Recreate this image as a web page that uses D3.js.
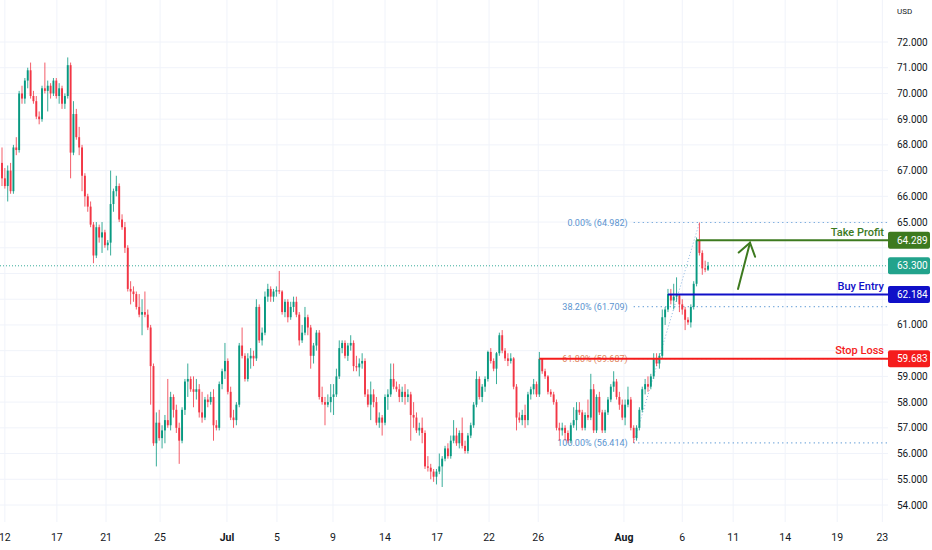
<!DOCTYPE html>
<html>
<head>
<meta charset="utf-8">
<script src="https://cdn.jsdelivr.net/npm/d3@7"></script>
<style>
body{margin:0;background:#fff;}
svg{display:block;font-family:Roboto,"Liberation Sans",sans-serif;}
</style>
</head>
<body>
<svg id="chart" width="932" height="550"></svg>
<script>
// 4h candles
const opens=[67.3,66.7,66.4,67.0,66.2,67.9,67.8,70.0,69.8,70.5,
70.9,69.9,69.7,69.1,69.0,70.2,70.1,70.3,70.0,70.5,
69.9,70.2,69.6,69.9,71.1,67.7,69.2,68.3,67.9,66.8,
66.0,65.6,64.9,63.7,64.8,64.4,64.6,64.1,64.2,65.7,
66.2,66.4,65.1,64.8,64.0,62.4,62.3,62.2,61.7,61.4,
61.5,61.4,60.9,59.4,56.4,57.2,56.6,56.9,57.3,57.1,
58.2,57.7,57.0,56.5,57.7,58.8,58.9,58.5,58.4,58.5,
57.6,57.4,58.1,58.0,58.2,57.1,57.0,58.7,59.2,59.6,
58.4,57.4,57.3,57.9,60.2,59.8,58.9,59.7,59.8,59.7,
61.7,60.4,60.7,62.1,62.4,62.1,62.3,62.35,62.3,61.5,
61.9,61.3,61.7,61.9,61.4,60.4,60.7,61.3,60.9,59.8,
60.2,60.7,58.2,58.0,57.9,58.0,58.2,58.3,59.0,60.1,
60.3,59.8,60.2,60.3,59.4,59.35,59.5,59.6,58.3,57.9,
58.3,58.0,57.2,57.4,57.2,58.2,58.3,58.9,58.6,58.5,
58.2,58.4,58.2,58.3,57.5,57.4,56.9,57.0,56.8,55.5,
55.45,55.3,55.1,55.3,55.5,55.8,56.2,55.9,56.5,56.7,
56.4,56.8,56.3,56.1,56.7,57.1,57.9,58.9,58.2,58.6,
58.9,59.95,59.6,59.3,59.9,60.6,60.0,59.7,59.6,59.7,
58.6,57.4,57.3,57.5,57.3,58.3,58.5,58.7,58.3,59.68,
59.2,59.0,58.4,58.3,58.0,57.0,56.9,57.0,56.8,56.5,
57.1,57.3,57.7,57.6,57.0,57.5,57.4,58.5,56.9,58.2,
57.6,56.9,57.6,58.1,58.6,58.8,58.2,57.9,57.4,57.9,
58.1,57.0,56.6,57.0,57.7,58.5,58.7,58.6,59.0,59.7,
59.5,59.8,61.3,61.6,62.2,61.95,62.1,62.15,61.8,61.6,
61.2,61.1,61.7,62.6,64.29,63.8,63.2,63.15];
const highs=[67.9,67.1,67.2,67.3,68.0,68.3,70.1,70.3,70.6,71.0,
71.2,70.1,69.9,69.3,70.3,71.2,70.5,70.4,70.6,70.6,
70.4,70.3,70.0,71.4,71.2,69.7,69.4,68.7,68.0,66.9,
66.1,65.8,65.0,65.0,64.9,65.0,64.7,64.3,67.0,66.3,
66.8,66.5,65.3,65.0,64.1,62.7,62.5,62.3,62.2,62.0,
62.3,61.6,61.0,59.5,57.6,57.7,57.1,57.5,58.9,58.4,
58.3,57.9,57.2,57.8,58.9,59.5,59.0,59.0,58.9,58.7,
58.4,58.2,58.3,58.4,58.5,57.3,58.8,59.3,60.3,59.7,
58.6,57.7,58.0,60.3,60.9,59.9,59.9,60.1,60.0,62.0,
61.8,60.9,62.3,62.6,62.5,62.4,62.5,63.1,62.35,62.0,
62.0,61.9,62.1,62.1,61.5,61.0,61.7,61.4,61.0,60.3,
60.8,60.8,58.6,58.2,58.3,58.7,58.7,59.3,60.4,60.4,
60.4,60.3,60.6,60.4,59.8,59.7,59.9,59.7,58.5,58.8,
58.5,58.2,57.6,57.5,58.3,58.5,59.5,59.5,58.8,58.7,
58.6,58.7,58.5,58.4,58.0,57.6,57.2,57.4,56.9,55.9,
55.6,55.4,55.4,56.0,55.9,56.3,56.4,56.7,57.3,57.0,
56.9,57.4,56.5,56.8,57.2,58.0,59.2,59.0,58.7,59.0,
60.0,60.1,59.7,59.95,60.7,60.8,60.1,59.9,59.9,59.75,
58.7,57.6,57.7,57.9,58.4,58.6,58.9,58.8,59.95,59.7,
59.3,59.05,58.5,58.4,58.1,57.2,57.2,57.1,56.9,57.2,
57.8,58.0,58.0,57.7,57.6,58.1,59.1,58.7,58.3,58.4,
57.7,57.7,58.2,58.7,59.2,58.9,58.4,58.1,58.1,58.6,
58.2,57.1,57.1,57.8,58.6,58.9,59.0,59.1,59.9,59.9,
59.9,61.6,61.7,62.4,62.4,62.6,62.85,62.2,62.0,61.7,
61.3,61.8,62.7,64.4,64.982,63.9,63.5,63.45];
const lows=[66.4,66.3,65.8,66.1,66.1,67.6,67.7,69.6,69.6,70.2,
69.8,69.6,69.0,68.8,68.9,70.0,69.3,69.8,69.9,69.8,
69.6,69.4,69.4,69.8,66.7,67.6,68.2,67.6,66.2,65.6,
65.4,64.8,63.4,63.6,64.2,63.8,64.0,63.9,63.7,65.4,
66.0,65.0,64.7,63.8,62.3,61.8,61.9,61.6,61.3,60.6,
61.3,60.8,57.9,56.3,55.5,56.5,56.2,56.4,57.0,56.9,
57.4,56.8,55.6,56.4,57.5,58.2,58.4,57.8,58.1,57.4,
57.2,57.3,57.8,57.9,56.5,56.9,56.9,58.5,58.9,58.3,
57.3,57.0,57.1,57.8,59.7,58.8,58.8,59.3,59.4,59.6,
60.3,60.2,60.6,61.9,61.9,61.9,62.1,62.2,61.4,61.3,
61.1,61.2,61.5,61.3,60.2,60.3,60.6,60.6,59.3,59.5,
60.0,58.1,57.9,57.1,57.8,57.6,57.5,58.2,58.9,59.9,
59.7,59.6,60.0,59.2,59.2,59.0,59.3,58.2,57.8,57.3,
57.8,57.1,57.0,56.7,57.1,57.7,58.2,58.5,58.4,58.0,
58.0,57.9,58.0,56.5,57.0,56.8,56.7,56.4,55.4,55.3,
55.0,54.9,54.8,55.2,54.7,55.7,55.8,55.8,56.4,56.3,
56.2,56.2,56.0,56.0,56.6,57.0,57.8,58.1,58.0,58.4,
58.8,59.5,59.2,58.7,59.8,59.9,59.6,59.4,59.5,58.5,
56.9,57.2,57.1,57.0,57.1,58.1,58.3,58.2,58.2,59.1,
58.9,58.3,58.2,57.9,56.9,56.5,56.7,56.5,56.4,56.4,
57.0,56.9,57.5,56.9,56.9,57.3,57.3,56.8,56.8,57.5,
56.8,56.8,57.5,58.0,58.4,58.1,57.7,57.3,57.1,57.8,
56.9,56.414,56.5,56.9,57.6,58.3,58.4,58.5,58.9,59.4,
59.3,59.7,61.0,61.5,61.8,61.6,61.9,61.5,61.4,60.8,
61.0,60.9,61.6,62.5,63.7,62.95,63.05,63.1];
const closes=[66.7,66.4,67.0,66.2,67.9,67.8,70.0,69.8,70.5,70.9,
69.9,69.7,69.1,69.0,70.2,70.1,70.3,70.0,70.5,69.9,
70.2,69.6,69.9,71.1,67.7,69.2,68.3,67.9,66.8,66.0,
65.6,64.9,63.7,64.8,64.4,64.6,64.1,64.2,65.7,66.2,
66.4,65.1,64.8,64.0,62.4,62.3,62.2,61.7,61.4,61.5,
61.4,60.9,59.4,56.4,57.2,56.6,56.9,57.3,57.1,58.2,
57.7,57.0,56.5,57.7,58.8,58.9,58.5,58.4,58.5,57.6,
57.4,58.1,58.0,58.2,57.1,57.0,58.7,59.2,59.6,58.4,
57.4,57.3,57.9,60.2,59.8,58.9,59.7,59.8,59.7,61.7,
60.4,60.7,62.1,62.4,62.1,62.3,62.35,62.3,61.5,61.9,
61.3,61.7,61.9,61.4,60.4,60.7,61.3,60.9,59.8,60.2,
60.7,58.2,58.0,57.9,58.0,58.2,58.3,59.0,60.1,60.3,
59.8,60.2,60.3,59.4,59.35,59.5,59.6,58.3,57.9,58.3,
58.0,57.2,57.4,57.2,58.2,58.3,58.9,58.6,58.5,58.2,
58.4,58.2,58.3,57.5,57.4,56.9,57.0,56.8,55.5,55.45,
55.3,55.1,55.3,55.5,55.8,56.2,55.9,56.5,56.7,56.4,
56.8,56.3,56.1,56.7,57.1,57.9,58.9,58.2,58.6,58.9,
59.95,59.6,59.3,59.9,60.6,60.0,59.7,59.6,59.7,58.6,
57.4,57.3,57.5,57.3,58.3,58.5,58.7,58.3,59.68,59.2,
59.0,58.4,58.3,58.0,57.0,56.9,57.0,56.8,56.5,57.1,
57.3,57.7,57.6,57.0,57.5,57.4,58.5,56.9,58.2,57.6,
56.9,57.6,58.1,58.6,58.8,58.2,57.9,57.4,57.9,58.1,
57.0,56.6,57.0,57.7,58.5,58.7,58.6,59.0,59.7,59.5,
59.8,61.3,61.6,62.2,61.95,62.1,62.15,61.8,61.6,61.2,
61.1,61.7,62.6,64.29,63.8,63.2,63.15,63.3];

// time axis, positions given in bar units (future dates past the last bar)
const tickLabels=["12","17","21","25","Jul","5","9","14","17","22","26","Aug","6","11","14","19","23"];
const tickBars=[1,19.2,36.4,55.3,78.7,96.2,115.8,134,152.2,170.4,187.6,217.6,238,255.8,274,292.2,308];

// trade levels
const levelNames=["Take Profit","Buy Entry","Stop Loss"];
const levelValues=[64.289,62.184,59.683];
const levelStart=[243,233,188];
const levelColors=["#3d7a1f","#1010c8","#f51c1c"];

// fib retracement drawn from the swing low bar to the swing high bar
const fibBars=[221,244];
const fibRatios=[0,0.382,0.618,1];
const fibColors=["#5a93cf","#5a93cf","#e0845c","#5a93cf"];

// hand drawn arrow [bar, price]
const arrowFrom=[257.5,62.4];
const arrowTo=[261.7,64.2];

let svg=d3.select("#chart");
const plotR=888, plotB=522;
let x=d3.scaleLinear().domain([0,247]).range([2,708]);
let y=d3.scaleLinear().domain([54,72]).range([505,42]);
let up="#089981", down="#f23645";

// grid
svg.append("g").selectAll("line").data(y.ticks(20)).join("line")
  .attr("x1",0).attr("x2",plotR).attr("y1",d=>y(d)).attr("y2",d=>y(d))
  .attr("stroke","#f0f3fa").attr("stroke-width",1);
svg.append("g").selectAll("line").data(tickBars).join("line")
  .attr("x1",d=>x(d)).attr("x2",d=>x(d)).attr("y1",0).attr("y2",plotB)
  .attr("stroke","#f0f3fa").attr("stroke-width",1);

// fib lines under the candles
let fibLo=lows[fibBars[0]], fibHi=highs[fibBars[1]];
let fib=svg.append("g");
fibRatios.forEach((r,k)=>{
  let p=fibHi-(fibHi-fibLo)*r;
  fib.append("line").attr("x1",x(fibBars[0])).attr("x2",plotR).attr("y1",y(p)).attr("y2",y(p))
    .attr("stroke","#6ea4da").attr("stroke-width",1.2).attr("stroke-dasharray","1.2,3.3");
  fib.append("text").attr("x",x(fibBars[0])-6).attr("y",y(p)).attr("dy","0.35em")
    .attr("text-anchor","end").style("font-size","9px").attr("fill",fibColors[k])
    .text((r*100).toFixed(2)+"% ("+p.toFixed(3)+")");
});
fib.append("line").attr("x1",x(fibBars[0])).attr("y1",y(fibLo)).attr("x2",x(fibBars[1])).attr("y2",y(fibHi))
  .attr("stroke","#8bb6e0").attr("stroke-width",1).attr("stroke-dasharray","1,2.2");

// current price line
let last=closes[closes.length-1];
svg.append("line").attr("x1",0).attr("x2",plotR).attr("y1",y(last)).attr("y2",y(last))
  .attr("stroke",up).attr("stroke-width",1).attr("stroke-dasharray","1,2").attr("opacity",0.8);

// candles
let candle=svg.append("g").selectAll("g").data(closes).join("g");
candle.append("line")
  .attr("x1",(d,i)=>x(i)).attr("x2",(d,i)=>x(i))
  .attr("y1",(d,i)=>y(highs[i])).attr("y2",(d,i)=>y(lows[i]))
  .attr("stroke",(d,i)=>d>=opens[i]?up:down).attr("stroke-width",1).attr("opacity",0.8);
candle.append("rect")
  .attr("x",(d,i)=>x(i)-0.95).attr("width",1.9)
  .attr("y",(d,i)=>y(Math.max(d,opens[i])))
  .attr("height",(d,i)=>Math.max(0.8,Math.abs(y(d)-y(opens[i]))))
  .attr("fill",(d,i)=>d>=opens[i]?up:down);

// trade level lines
levelValues.forEach((v,k)=>{
  svg.append("line").attr("x1",x(levelStart[k])).attr("x2",plotR).attr("y1",y(v)).attr("y2",y(v))
    .attr("stroke",levelColors[k]).attr("stroke-width",2);
  svg.append("text").attr("x",plotR-4).attr("y",y(v)-4.5).attr("text-anchor","end")
    .style("font-size","11px").style("font-weight","500").attr("fill",levelColors[k]).text(levelNames[k]);
});

// arrow
let ax1=x(arrowFrom[0]), ay1=y(arrowFrom[1]), ax2=x(arrowTo[0]), ay2=y(arrowTo[1]);
let ang=Math.atan2(ay1-ay2,ax1-ax2);
let arrow=svg.append("g").attr("stroke","#3d7a1f").attr("stroke-width",2).attr("fill","none").attr("stroke-linecap","round");
arrow.append("line").attr("x1",ax1).attr("y1",ay1).attr("x2",ax2).attr("y2",ay2);
arrow.append("polyline").attr("points",[
  [ax2+15*Math.cos(ang-0.6),ay2+15*Math.sin(ang-0.6)],
  [ax2,ay2],
  [ax2+15*Math.cos(ang+0.6),ay2+15*Math.sin(ang+0.6)]].map(p=>p.join(",")).join(" "));

// price scale; labels mostly covered by a level box are left out
let boxVals=[last].concat(levelValues);
let scaleTicks=y.ticks(20).filter(t=>boxVals.every(v=>Math.abs(y(t)-y(v))>=8.5));
svg.append("g").selectAll("text").data(scaleTicks).join("text")
  .attr("x",897).attr("y",d=>y(d)).attr("dy","0.35em")
  .style("font-size","10px").attr("fill","#131722").text(d=>d.toFixed(3));
svg.append("text").attr("x",897).attr("y",14).style("font-size","8px").attr("fill","#131722").text("USD");

let boxes=[{v:last,c:"#22a38c"}].concat(levelValues.map((v,k)=>({v:v,c:levelColors[k]})));
boxes.forEach(b=>{
  svg.append("rect").attr("x",plotR).attr("y",y(b.v)-8.5).attr("width",42).attr("height",17).attr("rx",2).attr("fill",b.c);
  svg.append("text").attr("x",897).attr("y",y(b.v)).attr("dy","0.35em")
    .style("font-size","10px").attr("fill","#fff").text(b.v.toFixed(3));
});

// time axis
svg.append("g").selectAll("text").data(tickLabels).join("text")
  .attr("x",(d,i)=>x(tickBars[i])).attr("y",537).attr("dy","0.35em").attr("text-anchor","middle")
  .style("font-size","10.5px").style("font-weight",d=>isNaN(+d)?"700":"400")
  .attr("fill","#131722").text(d=>d);
</script>
</body>
</html>
